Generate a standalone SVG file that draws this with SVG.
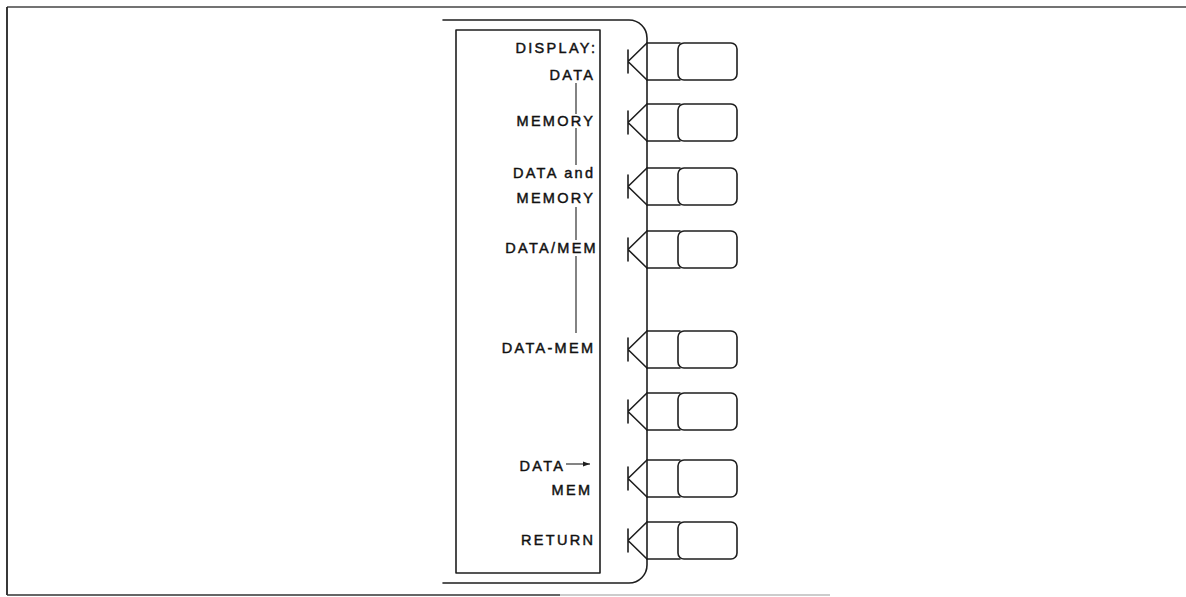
<svg xmlns="http://www.w3.org/2000/svg" width="1186" height="597" viewBox="0 0 1186 597">
  <style>
    .ln { fill: none; stroke: #1e1e1e; stroke-width: 1.6; stroke-linecap: round; stroke-linejoin: round; }
    .thin { fill: none; stroke: #333; stroke-width: 1.2; }
    .lbl { font-family: "Liberation Sans", Arial, sans-serif; font-size: 14.5px; letter-spacing: 2.3px; fill: #111; stroke: #111; stroke-width: 0.45px; text-anchor: end; }
  </style>
  <defs>
    <g id="softkey">
      <path class="ln" d="M628,7 V30 M647,0 L628,18.5 L647,37"/>
      <path class="ln" d="M647,0 H680 M647,37 H680"/>
      <rect class="ln" x="678" y="0" width="59" height="37" rx="6" ry="6"/>
    </g>
    <marker id="ah" markerWidth="8" markerHeight="6" refX="7" refY="3" orient="auto" markerUnits="userSpaceOnUse">
      <path d="M0,0.5 L7,3 L0,5.5 Z" fill="#1e1e1e"/>
    </marker>
  </defs>

  <g id="frame">
    <path d="M7,7 H1186" stroke="#444" stroke-width="1.5" fill="none"/>
    <path d="M7,7 V595" stroke="#222" stroke-width="1.8" fill="none"/>
    <path d="M7,595 H560" stroke="#333" stroke-width="1.5" fill="none"/>
    <path d="M560,595 H830" stroke="#999" stroke-width="1.2" fill="none"/>
  </g>

  <g id="bezel">
    <path class="ln" d="M443,20 H629 A18,18 0 0 1 647,38 V565 A18,18 0 0 1 629,583 H443"/>
  </g>

  <g id="display-box">
    <rect class="ln" x="456" y="30" width="144" height="543"/>
  </g>

  <g id="connectors">
    <path class="thin" d="M576,83 V114 M576,128 V165 M576,207 V240 M576,256 V333"/>
    <path class="thin" d="M566,464 H590" marker-end="url(#ah)"/>
  </g>

  <g id="key1">
    <use href="#softkey" transform="translate(0,43)"/>
    <text class="lbl" x="597.3" y="53">DISPLAY:</text>
    <text class="lbl" x="595.3" y="80">DATA</text>
  </g>
  <g id="key2">
    <use href="#softkey" transform="translate(0,104)"/>
    <text class="lbl" x="595.3" y="126">MEMORY</text>
  </g>
  <g id="key3">
    <use href="#softkey" transform="translate(0,168)"/>
    <text class="lbl" x="595.3" y="178">DATA and</text>
    <text class="lbl" x="595.3" y="203">MEMORY</text>
  </g>
  <g id="key4">
    <use href="#softkey" transform="translate(0,231)"/>
    <text class="lbl" x="598" y="253">DATA/MEM</text>
  </g>
  <g id="key5">
    <use href="#softkey" transform="translate(0,331)"/>
    <text class="lbl" x="595.3" y="353">DATA-MEM</text>
  </g>
  <g id="key6">
    <use href="#softkey" transform="translate(0,393)"/>
  </g>
  <g id="key7">
    <use href="#softkey" transform="translate(0,460)"/>
    <text class="lbl" x="565.3" y="471">DATA</text>
    <text class="lbl" x="592.3" y="495">MEM</text>
  </g>
  <g id="key8">
    <use href="#softkey" transform="translate(0,522)"/>
    <text class="lbl" x="595.3" y="545">RETURN</text>
  </g>
</svg>
